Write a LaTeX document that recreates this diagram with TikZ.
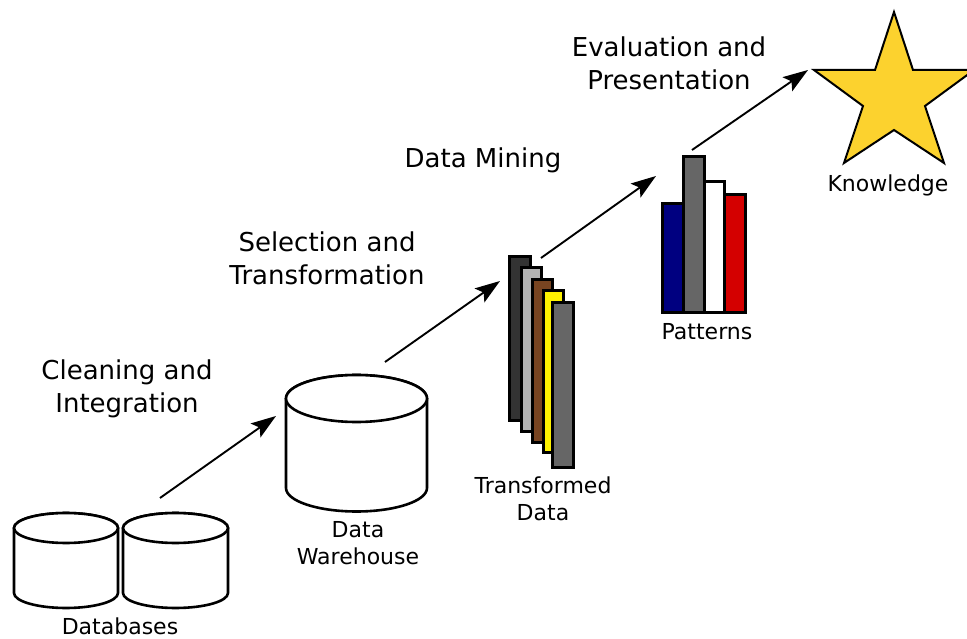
\documentclass[tikz,border=0pt]{standalone}
\usepackage{fontspec}
\setmainfont{DejaVu Sans}
\usetikzlibrary{arrows.meta}

% cylinder: centre x, top y, bottom y, x radius, y radius
\newcommand\drawdbcyl[5]{%
  \filldraw[cyl] (#1-#4,#2) -- (#1-#4,#3)
    arc[start angle=180,end angle=360,x radius=#4,y radius=#5]
    -- (#1+#4,#2)
    arc[start angle=0,end angle=180,x radius=#4,y radius=#5] -- cycle;
  \draw[cyl] (#1,#2) ellipse[x radius=#4,y radius=#5];
}

\tikzset{
  cyl/.style={draw=black,fill=white,line width=2.6pt},
  bar/.style={draw=black,line width=3pt},
  flow/.style={-{Stealth[length=25pt,width=17pt,inset=5pt]},line width=1.9pt},
  steplabel/.style={font=\fontsize{26}{33}\selectfont,align=center,inner sep=0pt},
  itemlabel/.style={font=\fontsize{22}{27}\selectfont,align=center,inner sep=0pt},
}

\begin{document}
\begin{tikzpicture}[x=1pt,y=1pt]
\useasboundingbox (0,0) rectangle (967,638);
\clip (0,0) rectangle (967,638);
\fill[white] (0,0) rectangle (967,638);

% databases
\drawdbcyl{66}{110}{45}{52}{15}
\drawdbcyl{175.5}{110}{45}{52.5}{15}
\node[itemlabel] (db) at (120,11.5) {Databases};

% data warehouse
\drawdbcyl{356.5}{239.5}{150}{70.5}{23.5}
\node[itemlabel] (dw) at (358,94.5) {Data\\Warehouse};

% transformed data
\definecolor{tdark}{HTML}{333333}
\definecolor{tlight}{HTML}{B3B3B3}
\definecolor{tbrown}{HTML}{784421}
\definecolor{tgray}{HTML}{666666}
\filldraw[bar,fill=tdark]  (509,217) rectangle (530,381);
\filldraw[bar,fill=tlight] (521,206) rectangle (541,370);
\filldraw[bar,fill=tbrown] (532,195) rectangle (552,358);
\filldraw[bar,fill=yellow] (543,185) rectangle (563,347);
\filldraw[bar,fill=tgray]  (552,171) rectangle (573,335);
\node[itemlabel] (td) at (543,139.5) {Transformed\\Data};

% patterns
\definecolor{pblue}{HTML}{000080}
\definecolor{pred}{HTML}{D40000}
\filldraw[bar,fill=pblue] (662,325) rectangle (683,434);
\filldraw[bar,fill=tgray] (683,325) rectangle (704,481);
\filldraw[bar,fill=white] (704,325) rectangle (724,456);
\filldraw[bar,fill=pred]  (724,325) rectangle (745,443);
\node[itemlabel] (pt) at (707,306) {Patterns};

% knowledge
\definecolor{kstar}{HTML}{FCD22E}
\filldraw[fill=kstar,draw=black,line width=2pt,line join=miter]
  (894,626) -- (913,568) -- (974,568) -- (925,532) -- (944,475)
  -- (894,508) -- (844,475) -- (863,532) -- (814,568) -- (875,568) -- cycle;
\node[itemlabel] (kn) at (888,453) {Knowledge};

% process steps
\node[steplabel] (s1) at (127,249.5) {Cleaning and\\Integration};
\node[steplabel] (s2) at (327,380) {Selection and\\Transformation};
\node[steplabel] (s3) at (483,478) {Data Mining};
\node[steplabel] (s4) at (669,574.5) {Evaluation and\\Presentation};

% arrow ends
\coordinate (a1s) at (160,140);
\coordinate (a1e) at (276,222);
\coordinate (a2s) at (385,276);
\coordinate (a2e) at (500,357);
\coordinate (a3s) at (541,380);
\coordinate (a3e) at (656,462);
\coordinate (a4s) at (692,488);
\coordinate (a4e) at (808,568);
\draw[flow] (a1s) -- (a1e);
\draw[flow] (a2s) -- (a2e);
\draw[flow] (a3s) -- (a3e);
\draw[flow] (a4s) -- (a4e);
\end{tikzpicture}
\end{document}
